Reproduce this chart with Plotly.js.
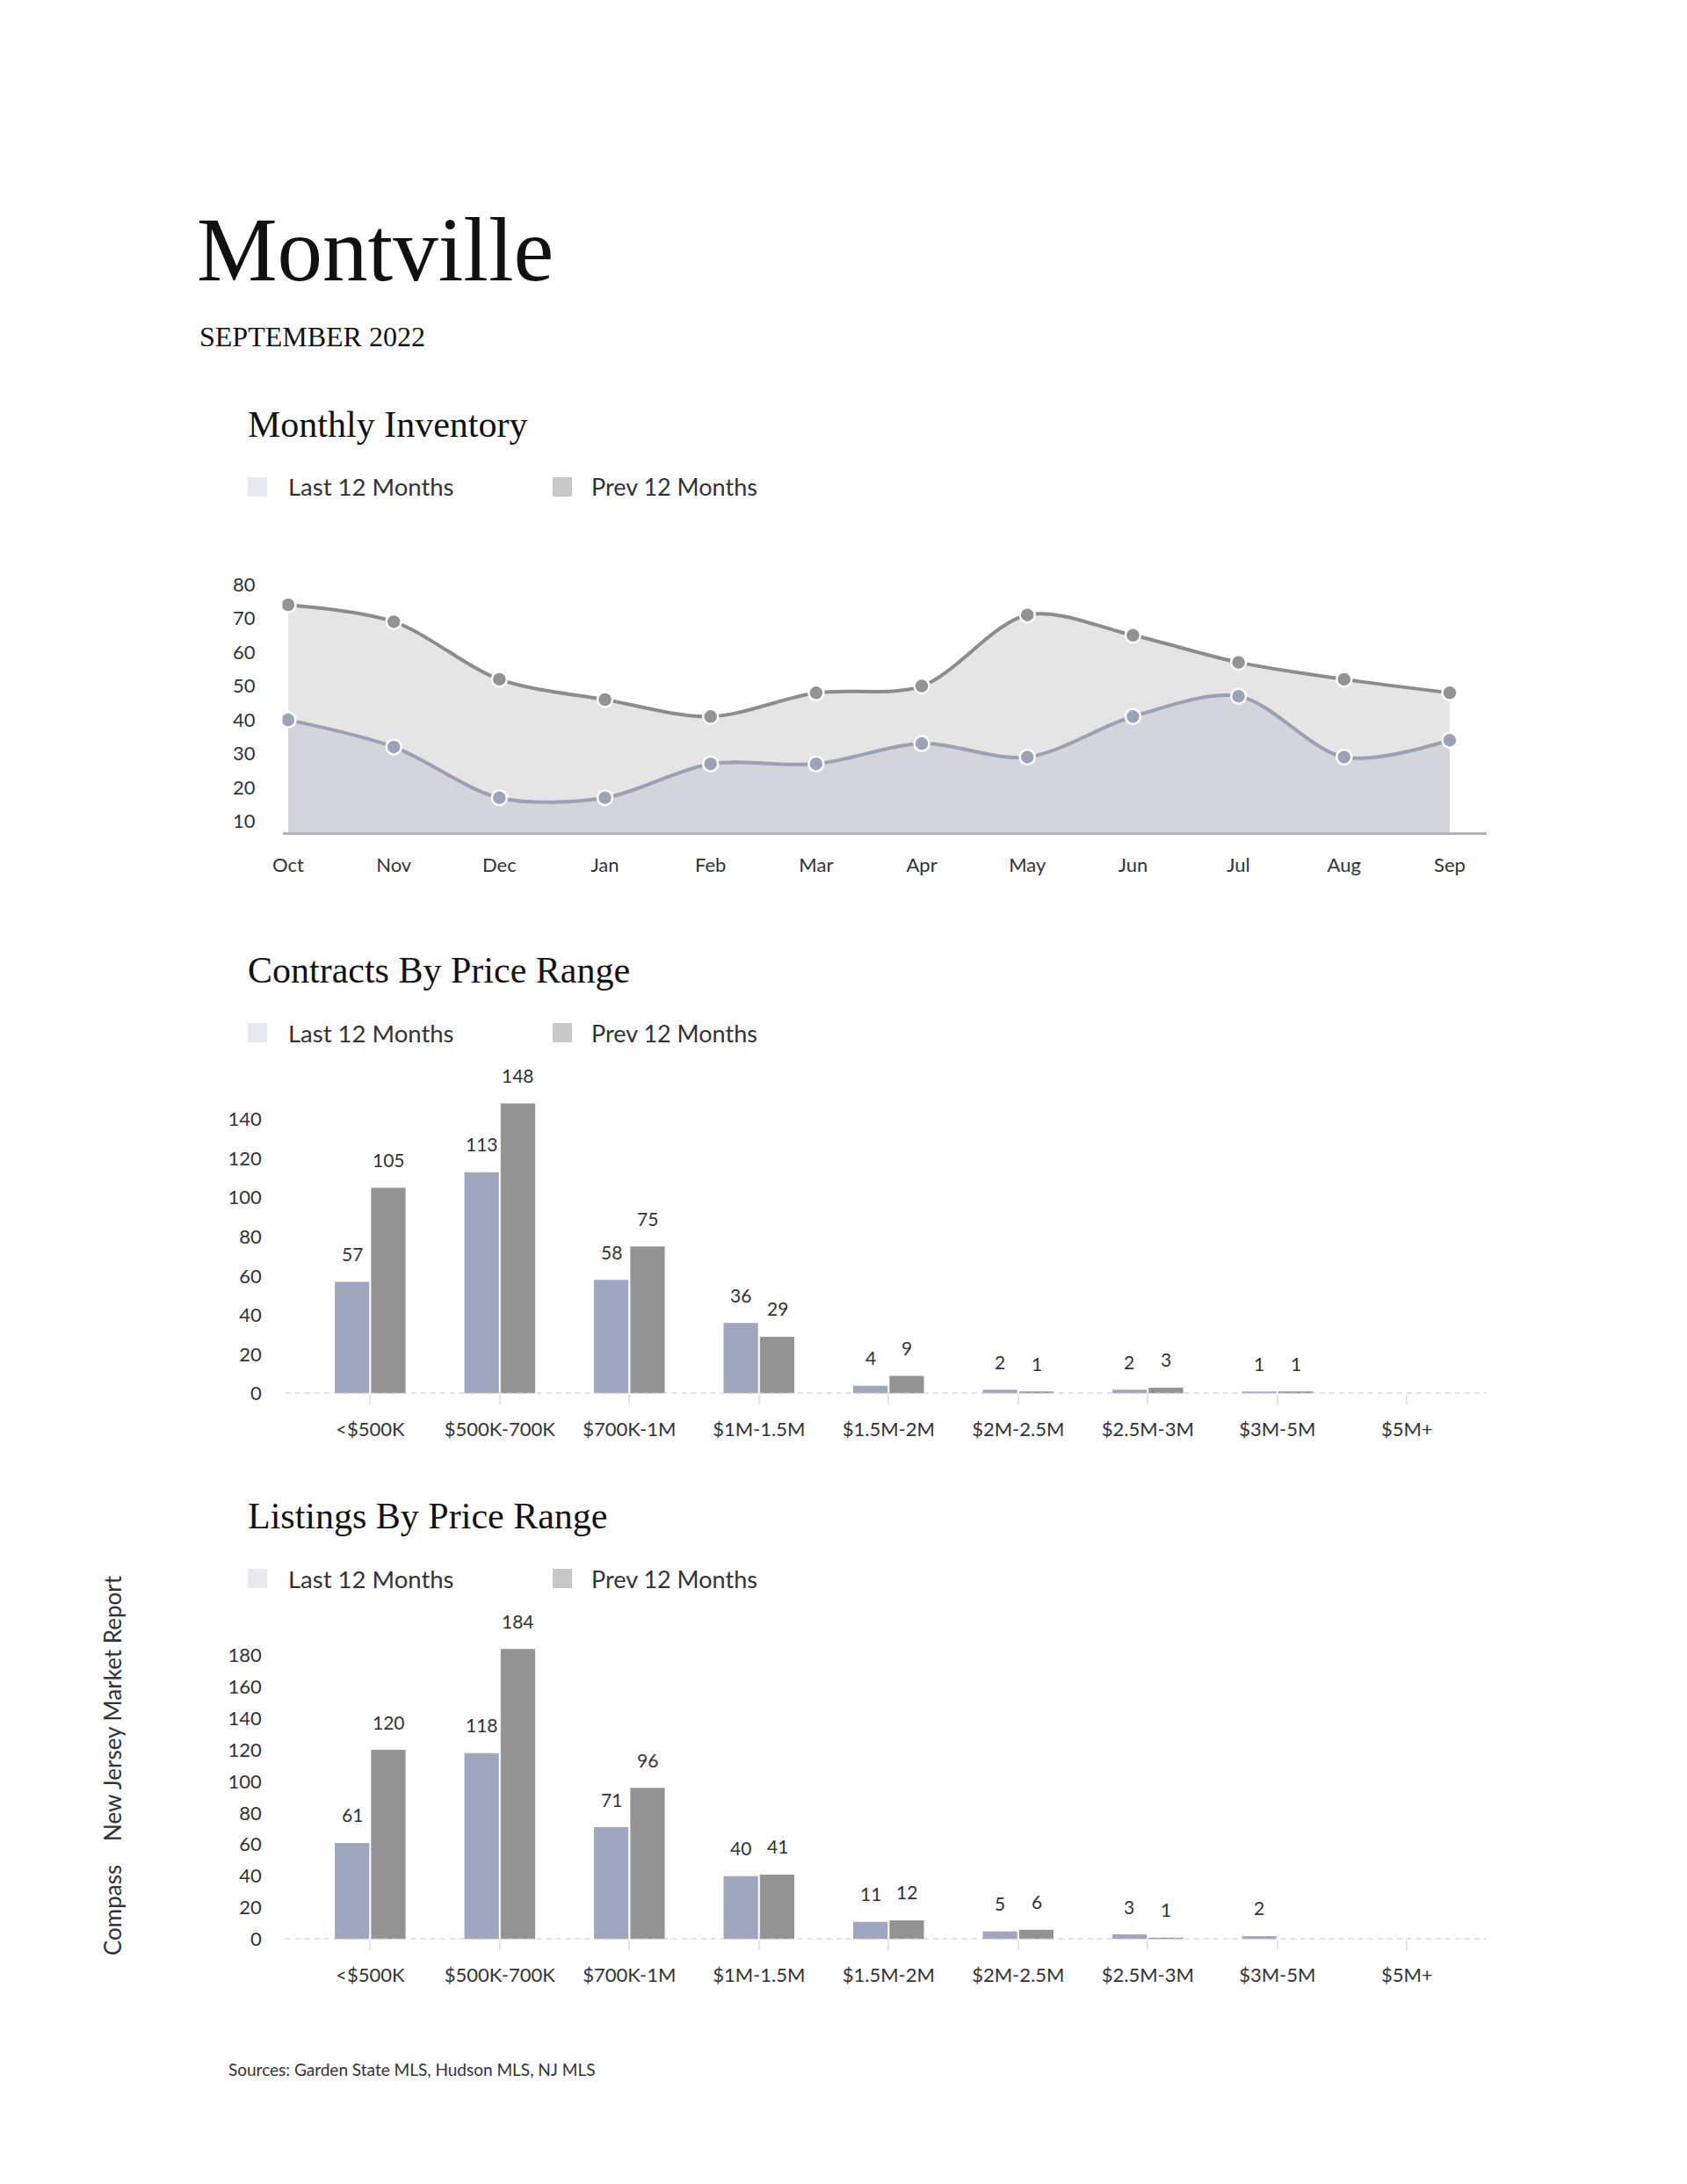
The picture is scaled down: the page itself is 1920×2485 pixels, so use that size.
<!DOCTYPE html>
<html>
<head>
<meta charset="utf-8">
<script src="https://cdn.plot.ly/plotly-3.0.1.min.js"></script>
<style>
  html, body { margin: 0; padding: 0; background: #ffffff; }
  #chart { width: 1920px; height: 2485px; }
</style>
</head>
<body>
<div id="chart"></div>
<script>
// ---------------- data ----------------
const months = ['Oct','Nov','Dec','Jan','Feb','Mar','Apr','May','Jun','Jul','Aug','Sep'];
const inventoryLast = [40, 32, 17, 17, 27, 27, 33, 29, 41, 47, 29, 34];
const inventoryPrev = [74, 69, 52, 46, 41, 48, 50, 71, 65, 57, 52, 48];
const inventoryTicks = [10, 20, 30, 40, 50, 60, 70, 80];

const priceRanges = ['<$500K','$500K-700K','$700K-1M','$1M-1.5M','$1.5M-2M','$2M-2.5M','$2.5M-3M','$3M-5M','$5M+'];
const contractsLast = [57, 113, 58, 36, 4, 2, 2, 1, 0];
const contractsPrev = [105, 148, 75, 29, 9, 1, 3, 1, 0];
const contractsTicks = [0, 20, 40, 60, 80, 100, 120, 140];

const listingsLast = [61, 118, 71, 40, 11, 5, 3, 2, 0];
const listingsPrev = [120, 184, 96, 41, 12, 6, 1, 0, 0];
const listingsTicks = [0, 20, 40, 60, 80, 100, 120, 140, 160, 180];

const seriesNames = ['Last 12 Months', 'Prev 12 Months'];

// ---------------- layout helpers ----------------
const W = 1920, H = 2485;
const X = p => p / W;
const Y = p => 1 - p / H;
const SANS = 'Lato, "Open Sans", sans-serif';
const SERIF = '"Liberation Serif", "DejaVu Serif", serif';
const TXT = '#333333';

const C = {
  prevLine: '#8c8c8c', prevMarker: '#939393', prevFill: '#e5e5e5',
  lastLine: '#99a1b4', lastMarker: '#9aa3b8', lastFill: '#d4d5da',
  barLast: '#9ea7bf', barPrev: '#939393',
  legLast: '#e6eaef', legPrev: '#c8c8c8'
};

const monthIdx = months.map((m, i) => i);

const traces = [
  { x: monthIdx, y: inventoryPrev, xaxis: 'x', yaxis: 'y', type: 'scatter', mode: 'lines+markers',
    fill: 'tozeroy', fillcolor: C.prevFill, line: { color: C.prevLine, width: 4, shape: 'spline', smoothing: 0.9 },
    marker: { size: 17, color: C.prevMarker, line: { color: '#ffffff', width: 2.5 } }, name: seriesNames[1], hoverinfo: 'skip' },
  { x: monthIdx, y: inventoryLast, xaxis: 'x', yaxis: 'y', type: 'scatter', mode: 'lines+markers',
    fill: 'tozeroy', fillcolor: C.lastFill, line: { color: C.lastLine, width: 4, shape: 'spline', smoothing: 0.9 },
    marker: { size: 17, color: C.lastMarker, line: { color: '#ffffff', width: 2.5 } }, name: seriesNames[0], hoverinfo: 'skip' },
  { x: priceRanges, y: contractsLast, xaxis: 'x2', yaxis: 'y2', type: 'bar', marker: { color: C.barLast }, name: seriesNames[0], hoverinfo: 'skip' },
  { x: priceRanges, y: contractsPrev, xaxis: 'x2', yaxis: 'y2', type: 'bar', marker: { color: C.barPrev }, name: seriesNames[1], hoverinfo: 'skip' },
  { x: priceRanges, y: listingsLast, xaxis: 'x3', yaxis: 'y3', type: 'bar', marker: { color: C.barLast }, name: seriesNames[0], hoverinfo: 'skip' },
  { x: priceRanges, y: listingsPrev, xaxis: 'x3', yaxis: 'y3', type: 'bar', marker: { color: C.barPrev }, name: seriesNames[1], hoverinfo: 'skip' }
];

const annotations = [];
const shapes = [];

function text(t, xp, yp, size, family, color) {
  annotations.push({ text: t, x: X(xp), y: Y(yp), xref: 'paper', yref: 'paper',
    xanchor: 'left', yanchor: 'middle', showarrow: false,
    font: { size: size, family: family, color: color || '#111111' } });
}

// page titles
text('Montville', 222, 284, 103, SERIF);
text('SEPTEMBER 2022', 225, 383, 32, SERIF);

// sections
const sections = [
  { title: 'Monthly Inventory', ty: 483, ly: 554 },
  { title: 'Contracts By Price Range', ty: 1104, ly: 1175 },
  { title: 'Listings By Price Range', ty: 1725, ly: 1796 }
];
sections.forEach(s => {
  text(s.title, 280, s.ty, 42, SERIF);
  shapes.push({ type: 'rect', xref: 'paper', yref: 'paper', x0: X(282), x1: X(304), y0: Y(s.ly - 11), y1: Y(s.ly + 11),
    fillcolor: C.legLast, line: { width: 0 } });
  shapes.push({ type: 'rect', xref: 'paper', yref: 'paper', x0: X(629), x1: X(651), y0: Y(s.ly - 11), y1: Y(s.ly + 11),
    fillcolor: C.legPrev, line: { width: 0 } });
  text(seriesNames[0], 326, s.ly, 27.5, SANS, TXT);
  text(seriesNames[1], 671, s.ly, 27, SANS, TXT);
});

// bar value labels
function barLabels(lastArr, prevArr, xr, yr) {
  priceRanges.forEach((cat, i) => {
    [[lastArr[i], -20.8], [prevArr[i], 20.8]].forEach(([v, dx]) => {
      if (v > 0) annotations.push({ text: String(v), x: cat, y: v, xref: xr, yref: yr, xshift: dx, yshift: 32,
        xanchor: 'center', yanchor: 'middle', showarrow: false, font: { size: 21, family: SANS, color: TXT } });
    });
  });
}
barLabels(contractsLast, contractsPrev, 'x2', 'y2');
barLabels(listingsLast, listingsPrev, 'x3', 'y3');

// zero dashed lines
['2', '3'].forEach(k => {
  shapes.push({ type: 'line', xref: 'x' + k + ' domain', yref: 'y' + k, x0: 0, x1: 1, y0: 0, y1: 0,
    line: { color: '#c6c6c6', width: 2, dash: '6px,5px' } });
});

// side text and sources
annotations.push({ text: 'Compass', x: X(128), y: Y(2174), xref: 'paper', yref: 'paper', textangle: -90,
  showarrow: false, xanchor: 'center', yanchor: 'middle', font: { size: 26, family: SANS, color: TXT } });
annotations.push({ text: 'New Jersey Market Report', x: X(128), y: Y(1944), xref: 'paper', yref: 'paper', textangle: -90,
  showarrow: false, xanchor: 'center', yanchor: 'middle', font: { size: 26, family: SANS, color: TXT } });
text('Sources: Garden State MLS, Hudson MLS, NJ MLS', 258, 2354, 19, SANS, TXT);

const tickFont = { size: 22, family: SANS, color: TXT };

const layout = {
  width: W, height: H,
  margin: { l: 0, r: 0, t: 0, b: 0 },
  paper_bgcolor: '#ffffff', plot_bgcolor: 'rgba(0,0,0,0)',
  showlegend: false,
  barmode: 'group', bargap: 0.44, bargroupgap: 0.05,
  font: { family: SANS, color: TXT },
  xaxis: { domain: [X(321.5), X(1692)], range: [-0.054, 11.35], tickvals: monthIdx, ticktext: months, anchor: 'y',
    showgrid: false, zeroline: false, showline: true, linecolor: '#b3b3b3', linewidth: 2.5,
    ticks: '', tickfont: tickFont, ticklabelstandoff: 16, fixedrange: true },
  yaxis: { domain: [Y(947), Y(645)], range: [6.8, 85.2], tickvals: inventoryTicks, anchor: 'x',
    showgrid: false, zeroline: false, showline: false, ticks: '', tickfont: tickFont, ticklabelstandoff: 30, fixedrange: true },
  xaxis2: { domain: [X(324.7), X(1691.7)], range: [-0.655, 8.613], type: 'category', anchor: 'y2',
    showgrid: false, zeroline: false, showline: false, ticks: 'outside', ticklen: 11, tickcolor: '#e3e3e3', tickwidth: 2,
    tickfont: tickFont, ticklabelstandoff: 10, fixedrange: true },
  yaxis2: { domain: [Y(1585.6), Y(1240)], range: [0, 155.0], tickvals: contractsTicks, anchor: 'x2',
    showgrid: false, zeroline: false, showline: false, ticks: '', tickfont: tickFont, ticklabelstandoff: 26, fixedrange: true },
  xaxis3: { domain: [X(324.7), X(1691.7)], range: [-0.655, 8.613], type: 'category', anchor: 'y3',
    showgrid: false, zeroline: false, showline: false, ticks: 'outside', ticklen: 11, tickcolor: '#e3e3e3', tickwidth: 2,
    tickfont: tickFont, ticklabelstandoff: 10, fixedrange: true },
  yaxis3: { domain: [Y(2206.5), Y(1855)], range: [0, 195.8], tickvals: listingsTicks, anchor: 'x3',
    showgrid: false, zeroline: false, showline: false, ticks: '', tickfont: tickFont, ticklabelstandoff: 26, fixedrange: true },
  annotations: annotations,
  shapes: shapes
};

Plotly.newPlot('chart', traces, layout, { staticPlot: true, displayModeBar: false });
</script>
</body>
</html>
